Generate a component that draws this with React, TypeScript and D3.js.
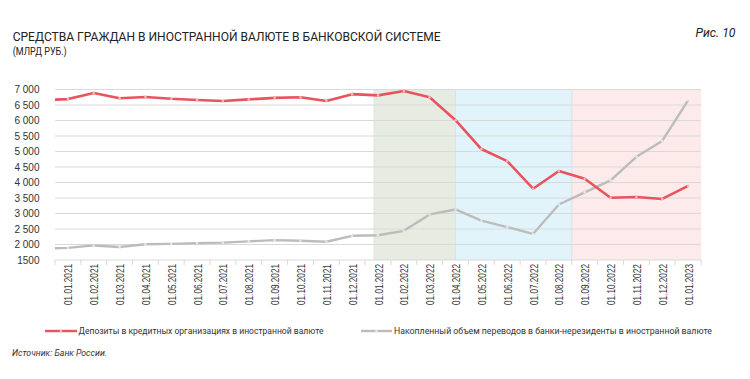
import React from "react";
import * as d3 from "d3";

const categories = [
  "01.01.2021","01.02.2021","01.03.2021","01.04.2021","01.05.2021","01.06.2021","01.07.2021",
  "01.08.2021","01.09.2021","01.10.2021","01.11.2021","01.12.2021","01.01.2022","01.02.2022",
  "01.03.2022","01.04.2022","01.05.2022","01.06.2022","01.07.2022","01.08.2022","01.09.2022",
  "01.10.2022","01.11.2022","01.12.2022","01.01.2023",
];
const deposits = [
  6690, 6890, 6720, 6760, 6700, 6660, 6630, 6680, 6730, 6750, 6630, 6850, 6810,
  6950, 6750, 6010, 5080, 4690, 3800, 4370, 4120, 3510, 3530, 3470, 3890,
];
const transfers = [
  1890, 1970, 1920, 2010, 2020, 2045, 2060, 2100, 2140, 2120, 2090, 2280, 2300,
  2440, 2970, 3130, 2770, 2560, 2340, 3290, 3680, 4070, 4830, 5340, 6650,
];
// values of the month preceding the window (line enters from the plot edge)
const depositsPrev = 6660;
const transfersPrev = 1870;

const yTicks = [1500, 2000, 2500, 3000, 3500, 4000, 4500, 5000, 5500, 6000, 6500, 7000];
const yTickLabels = ["1500", "2 000", "2 500", "3 000", "3 500", "4 000", "4 500", "5 000", "5 500", "6 000", "6 500", "7 000"];

// shaded periods, in category units from the left edge of the axis
const shadeStarts = [12.32, 15.5, 20];
const shadeEnds = [15.5, 20, 25];
const shadeColors = ["#e7ece2", "#e2f4fb", "#fdeaeb"];

const title = "СРЕДСТВА ГРАЖДАН В ИНОСТРАННОЙ ВАЛЮТЕ В БАНКОВСКОЙ СИСТЕМЕ";
const subtitle = "(МЛРД РУБ.)";
const figLabel = "Рис. 10";
const legendLabels = [
  "Депозиты в кредитных организациях в иностранной валюте",
  "Накопленный объем переводов в банки-нерезиденты в иностранной валюте",
];
const source = "Источник: Банк России.";

const RED = "#e8535d";
const GRAY = "#bcbcbc";

export default function App() {
  const W = 750, H = 379;
  const left = 55, right = 701, top = 89.5, bottom = 260;
  const x = d3.scaleBand<string>().domain(categories).range([left, right]).padding(0);
  const bw = x.bandwidth();
  const cx = (i: number) => left + (i + 0.5) * bw;
  const u = (v: number) => left + v * bw;
  const y = d3.scaleLinear().domain([1500, 7000]).range([bottom, top]);

  const line = d3.line<[number, number]>().x(d => d[0]).y(d => d[1]);
  const mk = (prev: number, arr: number[]) =>
    [[cx(-1), y(prev)] as [number, number], ...arr.map((v, i) => [cx(i), y(v)] as [number, number])];

  const font = "Roboto, 'Liberation Sans', Arial, sans-serif";

  return (
    <svg width={W} height={H} style={{ position: "absolute", left: 0, top: 0, background: "#fff" }}
      fontFamily={font}>
      <defs>
        <clipPath id="plot">
          <rect x={left} y={top - 10} width={right - left} height={bottom - top + 20} />
        </clipPath>
      </defs>
      <text x={12.7} y={40.7} fontSize={13.5} fill="#222" textLength={428} lengthAdjust="spacingAndGlyphs">{title}</text>
      <text x={12.7} y={55} fontSize={10} fill="#222" textLength={54} lengthAdjust="spacingAndGlyphs">{subtitle}</text>
      <text x={735.5} y={37} fontSize={12.5} fill="#222" textAnchor="end" fontStyle="italic" textLength={40} lengthAdjust="spacingAndGlyphs">{figLabel}</text>

      {shadeStarts.map((s, i) => (
        <rect key={"sh" + i} x={u(s)} y={top} width={u(shadeEnds[i]) - u(s)} height={bottom - top} fill={shadeColors[i]} />
      ))}
      {shadeStarts.slice(1).map((s, i) => (
        <line key={"sl" + i} x1={u(s)} x2={u(s)} y1={top} y2={bottom} stroke="#d6dde2" strokeWidth={0.8} />
      ))}

      {yTicks.map((t, i) => (
        <g key={"y" + t}>
          <line x1={left} x2={right} y1={y(t)} y2={y(t)} stroke="#d9d9d9" strokeWidth={1} />
          <text x={39.5} y={y(t)} dy="0.35em" fontSize={10} fill="#333" textAnchor="end"
            fontFamily="'Liberation Sans', Arial, sans-serif">{yTickLabels[i]}</text>
        </g>
      ))}

      {d3.range(categories.length + 1).map(k => (
        <line key={"tk" + k} x1={u(k)} x2={u(k)} y1={bottom} y2={bottom + 5} stroke="#d9d9d9" strokeWidth={1} />
      ))}
      {categories.map((c) => (
        <text key={c} transform={`translate(${(x(c) ?? 0) + bw / 2 + 1},${264}) rotate(-90)`} dy="0.35em"
          fontSize={10} fill="#333" textAnchor="end" textLength={41} lengthAdjust="spacingAndGlyphs"
          fontFamily="'Liberation Sans', Arial, sans-serif">{c}</text>
      ))}

      <g clipPath="url(#plot)">
        <path d={line(mk(transfersPrev, transfers)) ?? ""} fill="none" stroke={GRAY} strokeWidth={2.4} strokeLinejoin="round" />
        <path d={line(mk(depositsPrev, deposits)) ?? ""} fill="none" stroke={RED} strokeWidth={2.6} strokeLinejoin="round" />
      </g>
      {transfers.map((v, i) => (
        <circle key={"tm" + i} cx={cx(i)} cy={y(v)} r={1.3} fill="#e6e6e6" />
      ))}
      {deposits.map((v, i) => (
        <circle key={"dm" + i} cx={cx(i)} cy={y(v)} r={1.3} fill="#f7b7bb" />
      ))}

      <line x1={45} x2={77} y1={331} y2={331} stroke={RED} strokeWidth={2.4} />
      <circle cx={61} cy={331} r={1.3} fill="#f7b7bb" />
      <text x={78.5} y={331} dy="0.35em" fontSize={9.5} fill="#333" textLength={245} lengthAdjust="spacingAndGlyphs">{legendLabels[0]}</text>
      <line x1={361} x2={392} y1={331} y2={331} stroke={GRAY} strokeWidth={2.4} />
      <circle cx={376.5} cy={331} r={1.3} fill="#e6e6e6" />
      <text x={394} y={331} dy="0.35em" fontSize={9.5} fill="#333" textLength={318} lengthAdjust="spacingAndGlyphs">{legendLabels[1]}</text>

      <text x={12} y={356} fontSize={9.5} fill="#333" fontStyle="italic" textLength={95} lengthAdjust="spacingAndGlyphs">{source}</text>
    </svg>
  );
}
